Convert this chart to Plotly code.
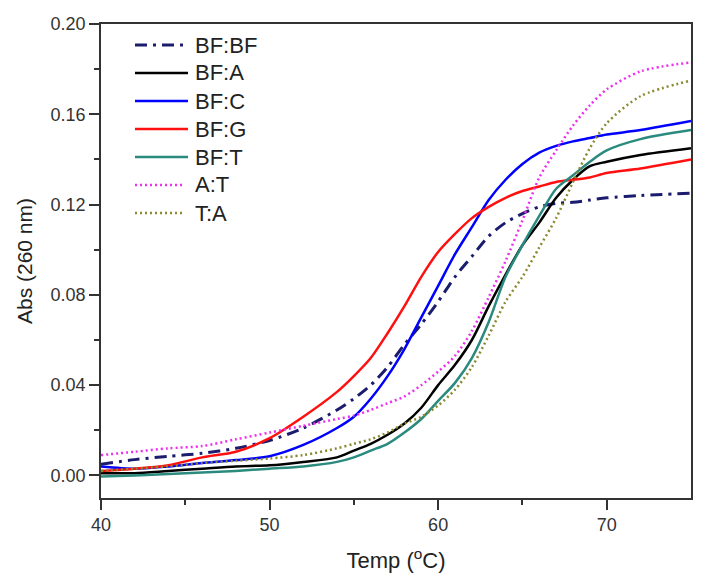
import plotly.graph_objects as go

temps = [40, 42, 44, 46, 48, 50, 52, 54, 55, 56, 57, 58, 59, 60, 61, 62, 63, 64, 65, 66, 67, 68, 69, 70, 72, 75]

bf_bf = [0.005, 0.007, 0.0085, 0.0098, 0.012, 0.0155, 0.021, 0.029, 0.034, 0.040, 0.048, 0.058, 0.067, 0.077, 0.088, 0.097, 0.106, 0.112, 0.116, 0.119, 0.1205, 0.121, 0.122, 0.123, 0.124, 0.125]
bf_a = [0.001, 0.001, 0.002, 0.003, 0.004, 0.0045, 0.006, 0.008, 0.011, 0.014, 0.018, 0.023, 0.030, 0.040, 0.049, 0.060, 0.075, 0.089, 0.102, 0.112, 0.123, 0.131, 0.137, 0.139, 0.142, 0.145]
bf_c = [0.004, 0.003, 0.004, 0.0055, 0.0068, 0.0085, 0.0135, 0.021, 0.026, 0.034, 0.044, 0.056, 0.070, 0.084, 0.098, 0.110, 0.122, 0.131, 0.138, 0.143, 0.146, 0.148, 0.1495, 0.151, 0.153, 0.157]
bf_g = [0.002, 0.003, 0.0045, 0.008, 0.0105, 0.0165, 0.026, 0.037, 0.044, 0.052, 0.063, 0.075, 0.088, 0.099, 0.107, 0.114, 0.119, 0.123, 0.126, 0.128, 0.130, 0.131, 0.132, 0.134, 0.136, 0.140]
bf_t = [-0.0005, 0.0, 0.0006, 0.0013, 0.002, 0.003, 0.004, 0.006, 0.008, 0.011, 0.014, 0.019, 0.025, 0.033, 0.041, 0.052, 0.068, 0.088, 0.102, 0.115, 0.127, 0.133, 0.139, 0.144, 0.149, 0.153]
a_t = [0.009, 0.0105, 0.012, 0.013, 0.016, 0.019, 0.022, 0.025, 0.0265, 0.029, 0.032, 0.035, 0.040, 0.046, 0.053, 0.064, 0.079, 0.095, 0.113, 0.132, 0.144, 0.155, 0.164, 0.171, 0.179, 0.183]
t_a = [0.002, 0.003, 0.004, 0.0055, 0.0065, 0.0075, 0.009, 0.012, 0.014, 0.016, 0.019, 0.023, 0.026, 0.031, 0.038, 0.048, 0.062, 0.077, 0.088, 0.101, 0.114, 0.130, 0.145, 0.156, 0.168, 0.175]

names = ["BF:BF", "BF:A", "BF:C", "BF:G", "BF:T", "A:T", "T:A"]
series = [bf_bf, bf_a, bf_c, bf_g, bf_t, a_t, t_a]
colors = ["#1c1c6e", "#000000", "#0000ff", "#ff1010", "#2a8a7e", "#ee30ee", "#8a8a30"]
dashes = ["12px,6px,3px,6px", "solid", "solid", "solid", "solid", "2px,3px", "2px,3px"]
widths = [3, 2.5, 2.5, 2.5, 2.5, 2.5, 2.5]

font = "Liberation Sans, Arial, sans-serif"

fig = go.Figure()
for i, (n, ys) in enumerate(zip(names, series)):
    fig.add_trace(go.Scatter(
        x=temps, y=ys, name=n, mode="lines",
        line=dict(color=colors[i], dash=dashes[i], width=widths[i], shape="spline", smoothing=0.8),
    ))

# manual legend (paper coordinates of the plot area)
W, H = 590.0, 474.0
for i, n in enumerate(names):
    py = 45 + 28 * i  # pixel row from top of page
    yp = (498 - py) / H
    x0 = (135 - 101) / W
    x1 = ((188 if i < 5 else 183) - 101) / W
    fig.add_shape(type="line", xref="paper", yref="paper", x0=x0, x1=x1, y0=yp, y1=yp,
                  line=dict(color=colors[i], dash=dashes[i], width=widths[i]))
    fig.add_annotation(xref="paper", yref="paper", x=(193 - 101) / W, y=yp,
                       xanchor="left", yanchor="middle", showarrow=False, text=n,
                       font=dict(family=font, size=22, color="#222"))

axis_common = dict(
    showline=True, linecolor="#333", linewidth=1.5, mirror=True,
    ticks="outside", ticklen=10, tickwidth=1.5, tickcolor="#333",
    showgrid=False, zeroline=False,
    tickfont=dict(family=font, size=18, color="#333"),
)
fig.update_xaxes(range=[40, 75], tickvals=[40, 50, 60, 70],
                 minor=dict(tickvals=[45, 55, 65], ticks="outside", ticklen=5, tickwidth=1.5, tickcolor="#333"),
                 title=dict(text="Temp (<sup>o</sup>C)", font=dict(family=font, size=22, color="#222"), standoff=18),
                 **axis_common)
fig.update_yaxes(range=[-0.01, 0.20], tickvals=[0.0, 0.04, 0.08, 0.12, 0.16, 0.20], tickformat=".2f",
                 minor=dict(tickvals=[0.02, 0.06, 0.10, 0.14, 0.18], ticks="outside", ticklen=5, tickwidth=1.5, tickcolor="#333"),
                 title=dict(text="Abs (260 nm)", font=dict(family=font, size=21, color="#222"), standoff=12),
                 **axis_common)

fig.update_layout(
    width=707, height=587,
    margin=dict(l=101, r=16, t=24, b=89),
    plot_bgcolor="white", paper_bgcolor="white",
    showlegend=False,
)

fig.write_html("out.html", config={"displayModeBar": False},
               post_script="document.body.style.margin='0px';")
